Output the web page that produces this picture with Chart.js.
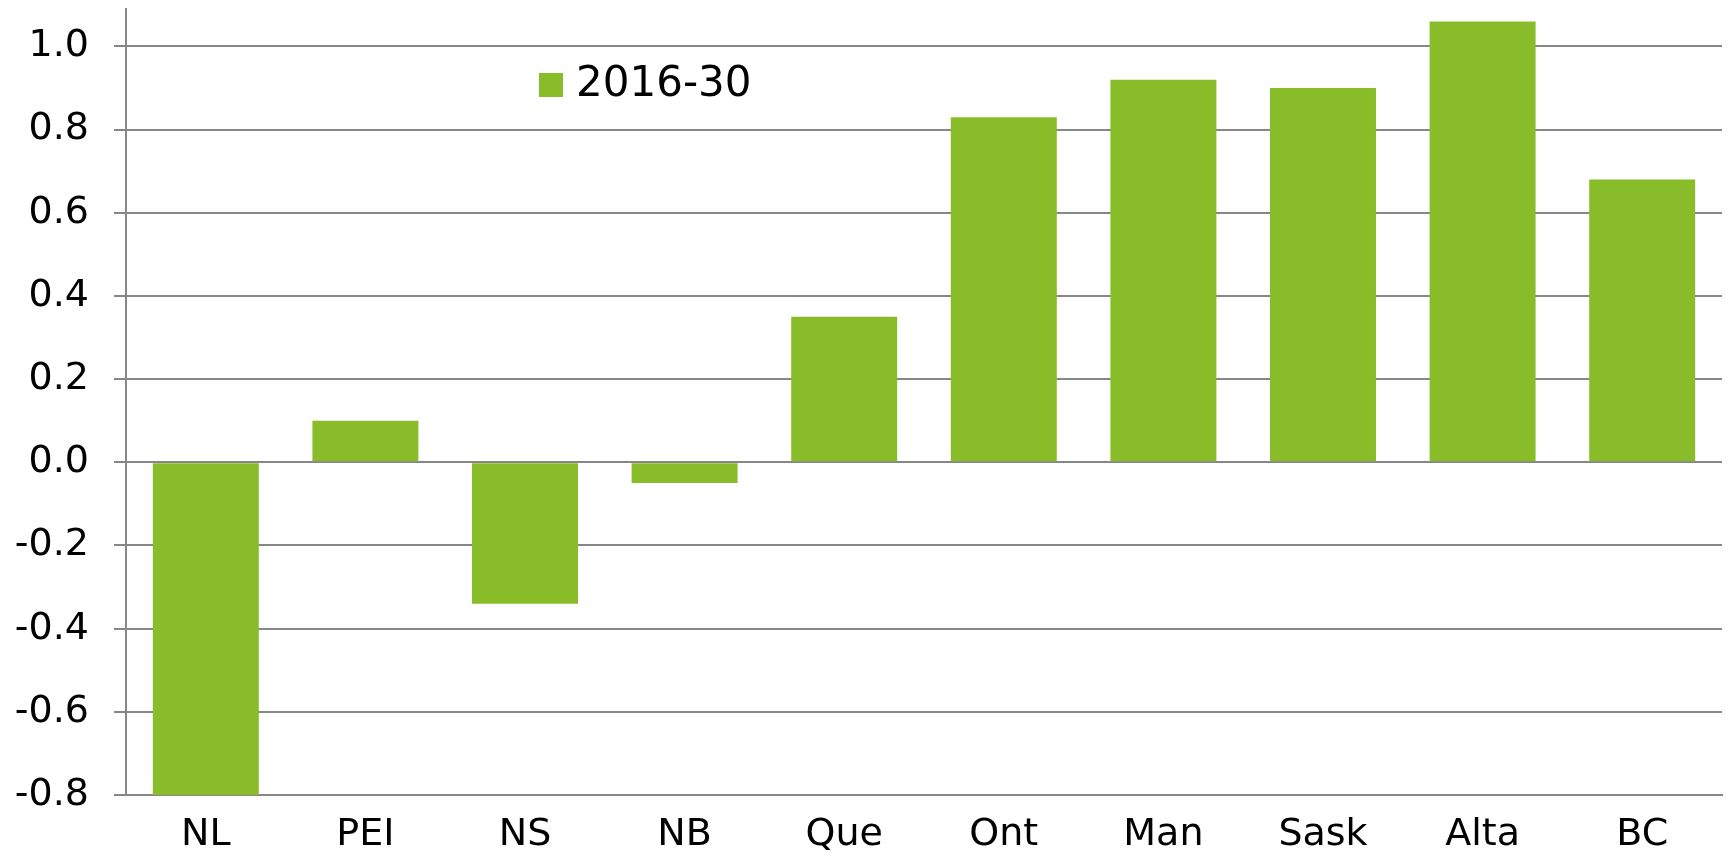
<!DOCTYPE html>
<html>
<head>
<meta charset="utf-8">
<script src="https://cdn.jsdelivr.net/npm/chart.js@4/dist/chart.umd.min.js"></script>
<style>
    body { margin: 0; background: #fff; }
    canvas { display: block; }
</style>
</head>
<body>
<canvas id="growthChart" width="1729" height="856"></canvas>
<script>
const provinces = ["NL", "PEI", "NS", "NB", "Que", "Ont", "Man", "Sask", "Alta", "BC"];
const growth2016to30 = [-0.80, 0.10, -0.34, -0.05, 0.35, 0.83, 0.92, 0.90, 1.06, 0.68];
const seriesName = "2016-30";
const yMin = -0.8;
const yMax = 1.09;
const yStep = 0.2;

const barGreen = "#88bc28";
const lineGrey = "#878787";
const fontFamily = "'DejaVu Sans', Verdana, sans-serif";

// legend sits inside the plot, so draw it by hand
const insideLegend = {
    id: "insideLegend",
    afterDraw: (chart) => {
        const ctx = chart.ctx;
        const ds = chart.data.datasets[0];
        ctx.save();
        ctx.fillStyle = ds.backgroundColor;
        ctx.fillRect(539, 73, 24, 24);
        ctx.fillStyle = "#000";
        ctx.font = "42px " + fontFamily;
        ctx.textBaseline = "middle";
        ctx.textAlign = "left";
        ctx.fillText(ds.label, 576, 85);
        ctx.restore();
    }
};

const ctx = document.querySelector("#growthChart").getContext("2d");
new Chart(ctx, {
    type: "bar",
    data: {
        labels: provinces,
        datasets: [{
            label: seriesName,
            data: growth2016to30,
            backgroundColor: barGreen,
            borderWidth: 0,
            categoryPercentage: 1,
            barPercentage: 0.664
        }]
    },
    options: {
        responsive: false,
        animation: false,
        layout: { padding: { top: 9, right: 7, bottom: 0, left: 0 } },
        plugins: {
            legend: { display: false },
            tooltip: { enabled: false }
        },
        scales: {
            x: {
                grid: { display: false, drawTicks: false },
                border: { display: true, color: lineGrey, width: 2 },
                ticks: {
                    color: "#000",
                    font: { family: fontFamily, size: 38 },
                    padding: 17,
                    maxRotation: 0
                },
                afterFit: (scale) => {
                    scale.height = 61;
                    scale.paddingLeft = 0;
                    scale.paddingRight = 0;
                }
            },
            y: {
                min: yMin,
                max: yMax,
                grid: { color: lineGrey, lineWidth: 2, tickLength: 12, tickColor: lineGrey },
                border: { display: true, color: lineGrey, width: 2 },
                ticks: {
                    stepSize: yStep,
                    includeBounds: false,
                    color: "#000",
                    font: { family: fontFamily, size: 38 },
                    padding: 25,
                    callback: (v) => (Math.abs(v) < 1e-9 ? 0 : v).toFixed(1)
                },
                afterFit: (scale) => {
                    scale.width = 126;
                    scale.paddingTop = 0;
                    scale.paddingBottom = 0;
                }
            }
        }
    },
    plugins: [insideLegend]
});
</script>
</body>
</html>
